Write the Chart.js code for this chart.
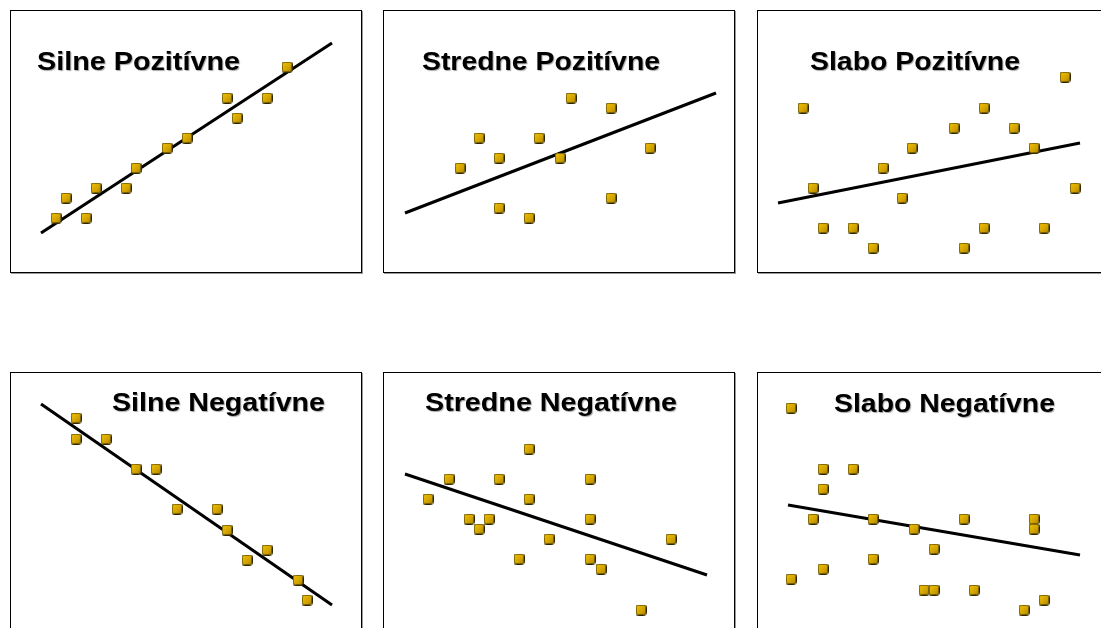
<!DOCTYPE html>
<html>
<head>
<meta charset="utf-8">
<script src="https://cdn.jsdelivr.net/npm/chart.js@4"></script>
<style>
  html, body { margin: 0; padding: 0; background: #fff; }
  body { width: 1101px; height: 628px; overflow: hidden; position: relative; }
  .panel {
    position: absolute;
    width: 350px; height: 261px;
    border: 1px solid #000;
    box-shadow: 1px 1px 0 #9a9a9a;
    background: #fff;
  }
  .panel canvas { display: block; }
</style>
</head>
<body>
<div class="panel" style="left:10px;top:10px"><canvas id="c1" width="350" height="261"></canvas></div>
<div class="panel" style="left:383px;top:10px"><canvas id="c2" width="350" height="261"></canvas></div>
<div class="panel" style="left:757px;top:10px"><canvas id="c3" width="350" height="261"></canvas></div>
<div class="panel" style="left:10px;top:372px"><canvas id="c4" width="350" height="261"></canvas></div>
<div class="panel" style="left:383px;top:372px"><canvas id="c5" width="350" height="261"></canvas></div>
<div class="panel" style="left:757px;top:372px"><canvas id="c6" width="350" height="261"></canvas></div>
<script>
// názvy grafov
const titles = ["Silne Pozitívne", "Stredne Pozitívne", "Slabo Pozitívne",
                "Silne Negatívne", "Stredne Negatívne", "Slabo Negatívne"];

// Silne Pozitívne
const silnePozX = [4.5, 5.5, 7.5, 8.5, 11.5, 12.5, 15.6, 17.6, 21.6, 22.6, 25.6, 27.6];
const silnePozY = [5.4, 7.4, 5.4, 8.4, 8.4, 10.4, 12.4, 13.4, 17.4, 15.4, 17.4, 20.5];
const silnePozLineX = [3.0, 32.1];
const silnePozLineY = [3.9, 22.9];

// Stredne Pozitívne
const strednePozX = [18.7, 22.7, 9.5, 15.5, 26.6, 11.5, 17.6, 7.6, 22.7, 11.5, 14.5];
const strednePozY = [17.4, 16.4, 13.4, 13.4, 12.4, 11.4, 11.4, 10.4, 7.4, 6.4, 5.4];
const strednePozLineX = [2.1, 33.2];
const strednePozLineY = [5.9, 17.9];

// Slabo Pozitívne
const slaboPozX = [30.7, 4.5, 22.6, 19.6, 25.6, 15.4, 27.6, 12.5, 5.5, 31.7, 14.4, 6.5, 9.5, 22.6, 28.6, 11.5, 20.6];
const slaboPozY = [19.5, 16.4, 16.4, 14.4, 14.4, 12.4, 12.4, 10.4, 8.4, 8.4, 7.4, 4.4, 4.4, 4.4, 4.4, 2.4, 2.4];
const slaboPozLineX = [2.0, 32.2];
const slaboPozLineY = [6.9, 12.9];

// Silne Negatívne
const silneNegX = [6.5, 6.5, 9.5, 12.5, 14.5, 16.6, 20.6, 21.6, 23.6, 25.6, 28.7, 29.6];
const silneNegY = [21.6, 19.5, 19.5, 16.5, 16.5, 12.5, 12.5, 10.4, 7.4, 8.4, 5.4, 3.4];
const silneNegLineX = [3.0, 32.1];
const silneNegLineY = [23.0, 2.9];

// Stredne Negatívne
const stredneNegX = [14.5, 6.5, 11.5, 20.6, 4.4, 14.5, 8.5, 10.5, 20.6, 9.5, 16.5, 28.7, 13.5, 20.6, 21.7, 25.7];
const stredneNegY = [18.5, 15.5, 15.5, 15.5, 13.5, 13.5, 11.5, 11.5, 11.5, 10.5, 9.5, 9.5, 7.5, 7.5, 6.5, 2.4];
const stredneNegLineX = [2.1, 32.3];
const stredneNegLineY = [16.0, 5.9];

// Slabo Negatívne
const slaboNegX = [3.3, 6.5, 9.5, 6.5, 5.5, 11.5, 20.6, 27.6, 15.6, 27.6, 17.6, 11.5, 6.5, 3.3, 16.6, 17.6, 21.6, 28.6, 26.6];
const slaboNegY = [22.6, 16.5, 16.5, 14.5, 11.5, 11.5, 11.5, 11.5, 10.5, 10.5, 8.5, 7.5, 6.5, 5.5, 4.4, 4.4, 4.4, 3.4, 2.4];
const slaboNegLineX = [3.0, 32.2];
const slaboNegLineY = [12.9, 7.9];

document.addEventListener("DOMContentLoaded", function() {

    // malý zlatý štvorček ako značka bodu
    function makeMarker() {
        const c = document.createElement("canvas");
        c.width = 11; c.height = 11;
        const g = c.getContext("2d");
        const grad = g.createLinearGradient(0, 0, 11, 11);
        grad.addColorStop(0, "#f2c400");
        grad.addColorStop(0.6, "#d2a200");
        grad.addColorStop(1, "#9c7a00");
        g.beginPath();
        g.roundRect(0.5, 0.5, 10, 10, 2);
        g.fillStyle = grad;
        g.fill();
        g.lineWidth = 1;
        g.strokeStyle = "#2e2600";
        g.stroke();
        return c;
    }
    const marker = makeMarker();

    // titulok kreslený priamo na plátno (neberie miesto z plochy grafu)
    const panelTitle = {
        id: "panelTitle",
        afterDraw(chart, args, opts) {
            const ctx = chart.ctx;
            ctx.save();
            ctx.font = 'bold 26px "Liberation Sans", Arial, sans-serif';
            ctx.textBaseline = "alphabetic";
            const w = ctx.measureText(opts.text).width;
            ctx.translate(opts.x, opts.y);
            ctx.scale(opts.width / w, 1);
            ctx.shadowColor = "rgba(0,0,0,0.35)";
            ctx.shadowOffsetX = 1;
            ctx.shadowOffsetY = 1;
            ctx.shadowBlur = 1;
            ctx.fillStyle = "#000";
            ctx.fillText(opts.text, 0, 0);
            ctx.restore();
        }
    };

    function toPoints(xs, ys) {
        return xs.map((x, i) => ({ x: x, y: ys[i] }));
    }

    function drawPanel(id, title, xs, ys, lx, ly, tx, ty, tw) {
        const ctx = document.getElementById(id).getContext("2d");
        new Chart(ctx, {
            type: "scatter",
            data: {
                datasets: [
                    {
                        data: toPoints(lx, ly),
                        showLine: true,
                        borderColor: "#000",
                        borderWidth: 3,
                        pointRadius: 0,
                        order: 2
                    },
                    {
                        data: toPoints(xs, ys),
                        pointStyle: marker,
                        pointRadius: 5,
                        order: 1
                    }
                ]
            },
            options: {
                responsive: false,
                animation: false,
                events: [],
                layout: { padding: 0, autoPadding: false },
                plugins: {
                    legend: { display: false },
                    tooltip: { enabled: false },
                    panelTitle: { text: title, x: tx, y: ty, width: tw }
                },
                scales: {
                    x: { type: "linear", display: false, min: 0, max: 35 },
                    y: { type: "linear", display: false, min: 0, max: 26.1 }
                }
            },
            plugins: [panelTitle]
        });
    }

    drawPanel("c1", titles[0], silnePozX, silnePozY, silnePozLineX, silnePozLineY, 26, 59, 203);
    drawPanel("c2", titles[1], strednePozX, strednePozY, strednePozLineX, strednePozLineY, 38, 59, 238);
    drawPanel("c3", titles[2], slaboPozX, slaboPozY, slaboPozLineX, slaboPozLineY, 52, 59, 210);
    drawPanel("c4", titles[3], silneNegX, silneNegY, silneNegLineX, silneNegLineY, 101, 38, 213);
    drawPanel("c5", titles[4], stredneNegX, stredneNegY, stredneNegLineX, stredneNegLineY, 41, 38, 252);
    drawPanel("c6", titles[5], slaboNegX, slaboNegY, slaboNegLineX, slaboNegLineY, 76, 39, 221);
});
</script>
</body>
</html>
